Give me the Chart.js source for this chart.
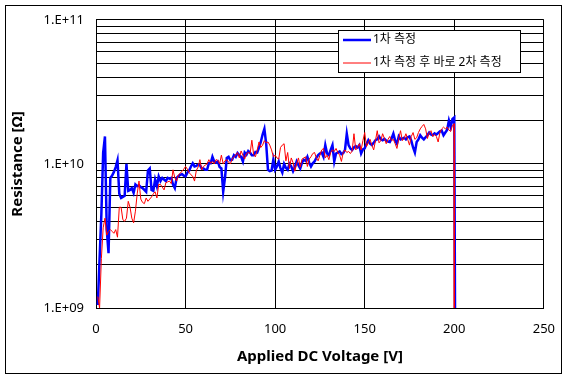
<!DOCTYPE html>
<html>
<head>
<meta charset="utf-8">
<script src="https://cdn.jsdelivr.net/npm/chart.js@4.4.1/dist/chart.umd.min.js"></script>
<style>
  body { margin: 0; background: #fff; }
  #wrap { width: 568px; height: 380px; }
</style>
</head>
<body>
<div id="wrap"><canvas id="chart" width="568" height="380"></canvas></div>
<script>
// 인가 전압 [V], 1 V 간격
const voltage = [];
for (let v = 1; v <= 200; v++) voltage.push(v);

// 저항값 (단위: 1E+09 Ω), 그래프에서 읽은 값
const firstRun = [
  1.05, 2.2, 4.5, 12, 15.5, 3.5, 2.4, 8.0, 8.3, 8.8,
  9.5, 10.6, 6.2, 5.8, 5.9, 6.0, 10.0, 6.5, 6.6, 6.8,
  6.3, 7.2, 7.0, 7.1, 6.9, 6.8, 6.6, 6.4, 9.0, 9.3,
  6.6, 6.5, 7.8, 7.0, 8.2, 7.6, 8.0, 7.8, 7.6, 8.0,
  7.9, 8.0, 7.2, 6.8, 8.0, 8.2, 8.4, 8.5, 8.3, 8.2,
  8.7, 9.0, 9.6, 10.1, 9.6, 9.7, 9.9, 9.8, 9.3, 9.3,
  9.1, 9.1, 10.1, 10.1, 11.2, 10.4, 10.2, 10.4, 9.5, 9.3,
  6.4, 8.0, 11.0, 11.2, 10.6, 10.7, 11.5, 11.2, 11.9, 11.5,
  11.2, 10.4, 12.0, 11.6, 12.3, 12.0, 11.5, 11.5, 12.1, 12.0,
  13.0, 14.2, 16.0, 17.5, 13.8, 9.1, 8.9, 9.0, 10.7, 9.1,
  9.6, 10.4, 9.3, 8.7, 10.0, 9.4, 9.1, 10.0, 9.6, 8.9,
  9.5, 10.4, 9.8, 9.3, 10.2, 10.7, 10.5, 11.2, 10.2, 9.6,
  10.1, 10.4, 11.0, 11.5, 11.8, 12.0, 11.2, 13.5, 11.8, 11.5,
  12.5, 13.5, 10.4, 11.8, 12.0, 12.2, 11.7, 11.9, 12.5, 16.2,
  13.5, 12.8, 12.5, 13.0, 13.3, 13.0, 13.5, 11.8, 12.6, 12.8,
  13.8, 14.6, 13.8, 13.5, 14.0, 14.6, 14.8, 15.5, 14.8, 14.6,
  14.9, 14.5, 14.3, 14.2, 15.0, 16.2, 14.5, 13.8, 15.5, 14.8,
  15.0, 15.2, 14.8, 15.3, 15.5, 14.5, 13.0, 12.0, 14.2, 14.8,
  15.8, 15.2, 14.8, 15.3, 15.8, 16.5, 16.0, 15.8, 16.3, 16.0,
  16.4, 16.8, 17.0, 15.8, 16.5, 17.2, 20.0, 18.0, 20.5, 21.0
];

const secondRun = [
  1.2, 1.0, 2.2, 3.6, 4.2, 3.2, 3.4, 3.5, 3.4, 3.3,
  3.5, 3.1, 5.0, 5.0, 4.1, 4.0, 4.2, 5.5, 5.0, 4.2,
  3.9, 4.7, 6.2, 7.6, 5.7, 5.4, 5.3, 5.8, 5.5, 5.7,
  5.9, 6.2, 6.4, 5.8, 7.2, 7.2, 6.9, 6.6, 7.4, 7.5,
  7.6, 7.3, 9.1, 8.0, 7.6, 8.4, 8.6, 8.9, 9.2, 9.6,
  9.2, 8.7, 8.4, 8.2, 7.6, 9.0, 9.5, 10.7, 9.1, 9.6,
  9.8, 10.0, 10.7, 10.1, 10.4, 10.0, 10.7, 10.6, 10.0, 11.5,
  10.0, 10.5, 10.7, 10.3, 10.0, 10.8, 11.2, 11.5, 12.0, 11.0,
  12.3, 11.5, 10.8, 11.8, 12.0, 11.8, 14.6, 11.6, 11.2, 12.5,
  14.2, 13.0, 13.5, 14.5, 14.0, 14.2, 13.5, 12.5, 11.2, 11.5,
  11.0, 10.8, 13.0, 13.5, 13.8, 10.5, 12.0, 9.3, 11.0, 10.2,
  8.9, 10.0, 11.0, 9.5, 10.8, 11.0, 11.2, 9.6, 10.8, 11.2,
  11.8, 12.0, 11.0, 10.5, 11.5, 12.5, 12.8, 11.0, 11.5, 10.7,
  12.0, 12.5, 12.2, 12.8, 12.0, 11.5, 10.4, 12.0, 12.5, 12.0,
  12.2, 11.8, 12.3, 16.2, 12.5, 13.0, 13.8, 12.5, 14.5, 16.5,
  13.2, 14.0, 14.8, 13.5, 12.5, 14.5, 17.0, 14.0, 14.5, 16.2,
  15.0, 13.8, 14.8, 15.5, 14.5, 14.8, 13.8, 12.8, 15.0, 17.0,
  14.5, 15.0, 16.2, 14.8, 13.5, 15.5, 16.5, 14.8, 15.2, 16.5,
  17.5, 18.2, 18.8, 17.5, 15.0, 16.5, 17.0, 15.5, 16.0, 15.5,
  14.2, 16.5, 17.5, 18.0, 17.5, 18.0, 17.2, 16.8, 18.5, 19.0
];

// 200 V 부근 절연 파괴 (그래프 하단 밖으로 떨어짐)
const dropVoltage = [200.5, 200];
const dropValue = 0.5;

const seriesNames = ['1차 측정', '1차 측정 후 바로 2차 측정'];
const seriesColors = ['#0000ff', '#ff0000'];

const yTickValues = [];
for (let e = 9; e <= 10; e++) {
  for (let m = 1; m <= 9; m++) yTickValues.push(m * Math.pow(10, e));
}
yTickValues.push(1e11);
const yTickLabels = { 1e9: '1.E+09', 1e10: '1.E+10', 1e11: '1.E+11' };

const FONT = "'Noto Sans', 'Noto Sans CJK KR', sans-serif";

function toPoints(values, dropX) {
  const pts = voltage.map((v, i) => ({ x: v, y: values[i] * 1e9 }));
  pts.push({ x: dropX, y: dropValue * 1e9 });
  return pts;
}

// 차트 안쪽 범례 + 바깥 테두리
const boxLegend = {
  id: 'boxLegend',
  afterDatasetsDraw(chart) {
    const ctx = chart.ctx;
    ctx.save();
    ctx.fillStyle = '#fff';
    ctx.strokeStyle = '#000';
    ctx.lineWidth = 1;
    ctx.fillRect(338.5, 30.5, 182, 42);
    ctx.strokeRect(338.5, 30.5, 182, 42);
    ctx.font = '12px ' + FONT;
    ctx.textBaseline = 'middle';
    const rows = [40, 63];
    seriesNames.forEach((name, i) => {
      ctx.strokeStyle = seriesColors[i];
      ctx.lineWidth = i === 0 ? 2.5 : 1;
      ctx.beginPath();
      ctx.moveTo(343, rows[i]);
      ctx.lineTo(371, rows[i]);
      ctx.stroke();
      ctx.fillStyle = '#000';
      ctx.fillText(name, 373, rows[i]);
    });
    ctx.restore();
  },
  afterDraw(chart) {
    const ctx = chart.ctx;
    ctx.save();
    ctx.strokeStyle = '#000';
    ctx.lineWidth = 1;
    ctx.strokeRect(5.5, 5.5, 556, 368);
    ctx.restore();
  }
};

new Chart(document.getElementById('chart'), {
  type: 'line',
  data: {
    datasets: [
      {
        label: seriesNames[0],
        data: toPoints(firstRun, dropVoltage[0]),
        borderColor: seriesColors[0],
        borderWidth: 2.5,
        pointRadius: 0,
        order: 1,
        clip: 0
      },
      {
        label: seriesNames[1],
        data: toPoints(secondRun, dropVoltage[1]),
        borderColor: seriesColors[1],
        borderWidth: 1,
        pointRadius: 0,
        order: 0,
        clip: 0
      }
    ]
  },
  options: {
    responsive: false,
    animation: false,
    layout: { padding: { top: 17, right: 21, left: 0, bottom: 0 } },
    plugins: {
      legend: { display: false },
      tooltip: { enabled: false }
    },
    scales: {
      x: {
        type: 'linear',
        min: 0,
        max: 250,
        afterFit(scale) { scale.height = 72; },
        ticks: {
          stepSize: 50,
          color: '#000',
          padding: 13,
          maxRotation: 0,
          font: { family: FONT, size: 13 }
        },
        grid: { color: '#000', lineWidth: 1, drawTicks: false },
        border: { color: '#000', width: 1 },
        title: {
          display: true,
          text: 'Applied DC Voltage [V]',
          color: '#000',
          padding: { top: 0, bottom: 14 },
          font: { family: FONT, size: 15, weight: 'bold' }
        }
      },
      y: {
        type: 'logarithmic',
        min: 1e9,
        max: 1e11,
        afterFit(scale) { scale.width = 96; },
        afterBuildTicks(scale) {
          scale.ticks = yTickValues.map(v => ({ value: v, major: !!yTickLabels[v] }));
        },
        ticks: {
          color: '#000',
          padding: 12,
          autoSkip: false,
          font: { family: FONT, size: 13 },
          callback(value) { return yTickLabels[value] || ''; }
        },
        grid: { color: '#000', lineWidth: 1, drawTicks: false },
        border: { color: '#000', width: 1 },
        title: {
          display: true,
          text: 'Resistance [Ω]',
          color: '#000',
          padding: { top: 9, bottom: 0 },
          font: { family: FONT, size: 15, weight: 'bold' }
        }
      }
    }
  },
  plugins: [boxLegend]
});
</script>
</body>
</html>
